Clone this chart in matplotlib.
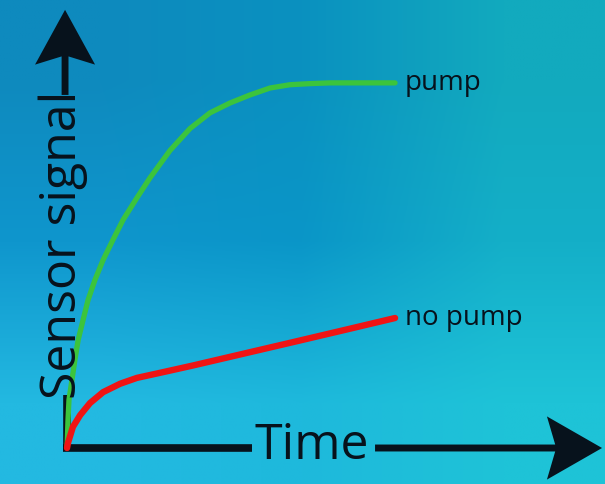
import numpy as np
import matplotlib
matplotlib.use("Agg")
import matplotlib.pyplot as plt

plt.rcParams["font.family"] = ["Open Sans", "DejaVu Sans"]

# curves (time, signal), arbitrary units
pump_t = [0, 0.03, 0.06, 0.15, 0.24, 0.34, 0.49, 0.64, 0.85, 1.10, 1.40, 1.71,
          2.13, 2.53, 3.14, 3.75, 4.36, 4.97, 5.58, 6.19, 6.80, 7.41, 8.02, 10]
pump_s = [0, 0.77, 1.32, 1.86, 2.41, 2.96, 3.51, 4.05, 4.60, 5.15, 5.70, 6.25,
          6.85, 7.40, 8.15, 8.75, 9.18, 9.45, 9.67, 9.86, 9.95, 9.98, 10.0, 10.0]
nopump_t = [0, 0.03, 0.18, 0.40, 0.70, 1.10, 1.62, 2.13, 2.84, 3.84, 5.27,
            6.89, 8.45, 10]
nopump_s = [0, 0.14, 0.58, 0.90, 1.23, 1.53, 1.76, 1.92, 2.06, 2.26, 2.56,
            2.90, 3.23, 3.56]
labels = ["pump", "no pump"]

TEXT = "#07121c"

# background gradient colours (3x3 grid, top row first)
bg = np.array([
    [[14, 138, 190], [10, 145, 192], [18, 170, 190]],
    [[15, 150, 205], [10, 150, 200], [20, 175, 200]],
    [[35, 185, 225], [30, 185, 220], [30, 195, 215]],
]) / 255.0

fig = plt.figure(figsize=(6.05, 4.84), dpi=100)
ax = fig.add_axes([0, 0, 1, 1])
ax.set_xlim(-2.043, 16.40)
ax.set_ylim(-0.986, 12.27)
ax.axis("off")
ax.imshow(bg, extent=[0, 1, 0, 1], transform=ax.transAxes,
          interpolation="bilinear", aspect="auto", zorder=0)

# curves
ax.plot(pump_t, pump_s, color="#3cc43c", lw=3.8, solid_capstyle="round",
        solid_joinstyle="round", zorder=3)
ax.plot(nopump_t, nopump_s, color="#f01414", lw=4.6, solid_capstyle="round",
        solid_joinstyle="round", zorder=3)
ax.text(10.3, pump_s[-1], labels[0], fontsize=20, color=TEXT,
        ha="left", va="center")
ax.text(10.3, nopump_s[-1], labels[1], fontsize=20, color=TEXT,
        ha="left", va="center")

# y axis: line, label, arrow
ax.plot([0, 0], [0, 1.45], color=TEXT, lw=5.5, solid_capstyle="butt", zorder=2)
ax.text(-0.12, 5.56, "Sensor signal", fontsize=36, color=TEXT, rotation=90,
        ha="center", va="center")
ax.arrow(-0.06, 9.67, 0, 12.0 - 9.67, width=0.21, head_width=1.83,
         head_length=1.5, overhang=0.15, length_includes_head=True,
         color=TEXT, lw=0)

# x axis: line, label, arrow
ax.plot([-0.12, 5.64], [0, 0], color=TEXT, lw=5.5, solid_capstyle="butt", zorder=2)
ax.text(7.46, -0.30, "Time", fontsize=36, color=TEXT, ha="center", va="baseline")
ax.arrow(9.39, 0, 16.31 - 9.39, 0, width=0.19, head_width=1.73,
         head_length=1.68, overhang=0.15, length_includes_head=True,
         color=TEXT, lw=0)

fig.savefig("out.png", dpi=100)
